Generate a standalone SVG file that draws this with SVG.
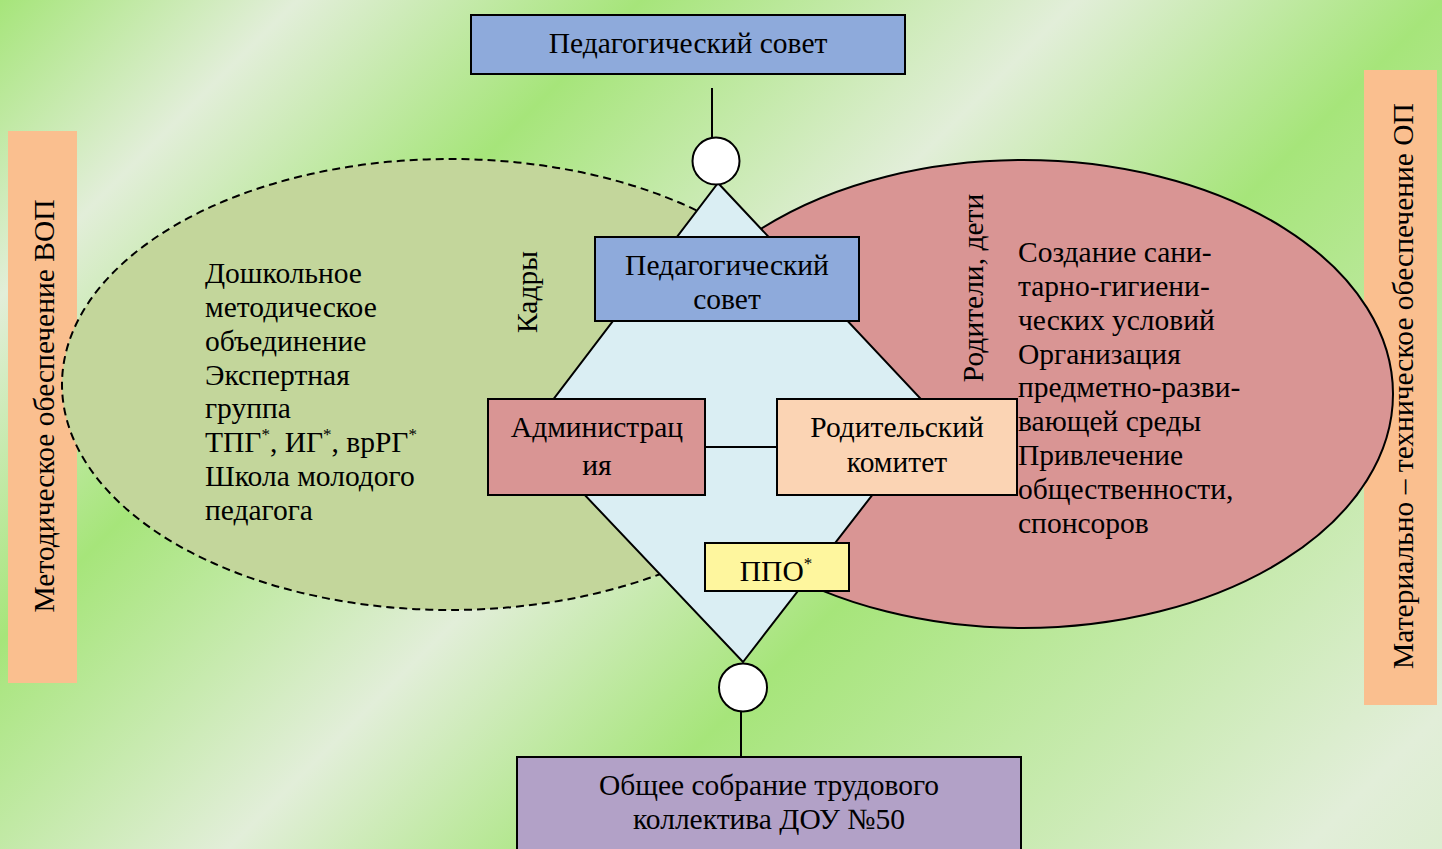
<svg xmlns="http://www.w3.org/2000/svg" width="1442" height="849" viewBox="0 0 1442 849">
<defs>
<linearGradient id="bg" gradientUnits="userSpaceOnUse" x1="0" y1="0" x2="1145.5" y2="1145.5">
<stop offset="0" stop-color="#a6e57a"/>
<stop offset="0.13" stop-color="#e2eed9"/>
<stop offset="0.28" stop-color="#a6e57a"/>
<stop offset="0.47" stop-color="#e2eed9"/>
<stop offset="0.63" stop-color="#a6e57a"/>
<stop offset="0.94" stop-color="#e2eed9"/>
<stop offset="1" stop-color="#dcedd0"/>
</linearGradient>
<style>
.t{font-family:"Liberation Serif","Times New Roman",serif;font-size:29.5px;fill:#000}
.c{text-anchor:middle}
.box{stroke:#000;stroke-width:2}
.sup{font-size:17px}
</style>
</defs>
<rect width="1442" height="849" fill="url(#bg)"/>

<g id="side-left">
<rect x="8" y="131" width="69" height="552" fill="#fabf8f"/>
<text class="t c" transform="translate(54,406) rotate(-90)">Методическое обеспечение ВОП</text>
</g>
<g id="side-right">
<rect x="1364" y="70" width="73" height="635" fill="#fabf8f"/>
<text class="t c" transform="translate(1413,386) rotate(-90)">Материально – техническое обеспечение ОП</text>
</g>

<g id="ellipse-green">
<ellipse cx="450" cy="384.5" rx="388" ry="225.5" fill="#c3d69b" stroke="#000" stroke-width="2" stroke-dasharray="8,5"/>
<text class="t" x="205" y="283">Дошкольное</text>
<text class="t" x="205" y="317">методическое</text>
<text class="t" x="205" y="351">объединение</text>
<text class="t" x="205" y="385">Экспертная</text>
<text class="t" x="205" y="418">группа</text>
<text class="t" x="205" y="452">ТПГ<tspan class="sup" dy="-12">*</tspan><tspan dy="12">, ИГ</tspan><tspan class="sup" dy="-12">*</tspan><tspan dy="12">, врРГ</tspan><tspan class="sup" dy="-12">*</tspan></text>
<text class="t" x="205" y="486">Школа молодого</text>
<text class="t" x="205" y="520">педагога</text>
<text class="t c" transform="translate(537,292) rotate(-90)">Кадры</text>
</g>

<g id="ellipse-red">
<ellipse cx="1023" cy="394" rx="370" ry="234" fill="#d99594" stroke="#000" stroke-width="2"/>
<text class="t" x="1018" y="262">Создание сани-</text>
<text class="t" x="1018" y="296">тарно-гигиени-</text>
<text class="t" x="1018" y="330">ческих условий</text>
<text class="t" x="1018" y="364">Организация</text>
<text class="t" x="1018" y="397">предметно-разви-</text>
<text class="t" x="1018" y="431">вающей среды</text>
<text class="t" x="1018" y="465">Привлечение</text>
<text class="t" x="1018" y="499">общественности,</text>
<text class="t" x="1018" y="533">спонсоров</text>
<text class="t c" transform="translate(983,288) rotate(-90)">Родители, дети</text>
</g>

<g id="diamond">
<polygon points="718,183 935,414 743,662 527,434" fill="#daeef3" stroke="#000" stroke-width="2"/>
</g>

<g id="connectors" stroke="#000" stroke-width="2" fill="none">
<line x1="712" y1="88" x2="712" y2="138"/>
<line x1="741" y1="711" x2="741" y2="758"/>
<line x1="705" y1="447" x2="777" y2="447"/>
</g>

<g id="circle-top">
<circle cx="716" cy="161" r="23.5" fill="#fff" stroke="#000" stroke-width="2"/>
</g>
<g id="circle-bottom">
<circle cx="743" cy="687.5" r="24" fill="#fff" stroke="#000" stroke-width="2"/>
</g>

<g id="ped-sovet-top">
<rect class="box" x="471" y="15" width="434" height="59" fill="#8eaadb"/>
<text class="t c" x="688" y="53">Педагогический совет</text>
</g>
<g id="ped-sovet">
<rect class="box" x="595" y="237" width="264" height="84" fill="#8eaadb"/>
<text class="t c" x="727" y="275">Педагогический</text>
<text class="t c" x="727" y="309">совет</text>
</g>
<g id="administration">
<rect class="box" x="488" y="399" width="217" height="96" fill="#d99594"/>
<text class="t c" x="597" y="437">Администрац</text>
<text class="t c" x="597" y="475">ия</text>
</g>
<g id="parent-committee">
<rect class="box" x="777" y="399" width="240" height="96" fill="#fbd4b4"/>
<text class="t c" x="897" y="437">Родительский</text>
<text class="t c" x="897" y="472">комитет</text>
</g>
<g id="ppo">
<rect class="box" x="705" y="543" width="144" height="48" fill="#fef69e"/>
<text class="t c" x="776" y="581">ППО<tspan class="sup" dy="-12">*</tspan></text>
</g>
<g id="general-meeting">
<rect class="box" x="517" y="757" width="504" height="100" fill="#b2a1c7"/>
<text class="t c" x="769" y="795">Общее собрание трудового</text>
<text class="t c" x="769" y="829">коллектива ДОУ №50</text>
</g>
</svg>
